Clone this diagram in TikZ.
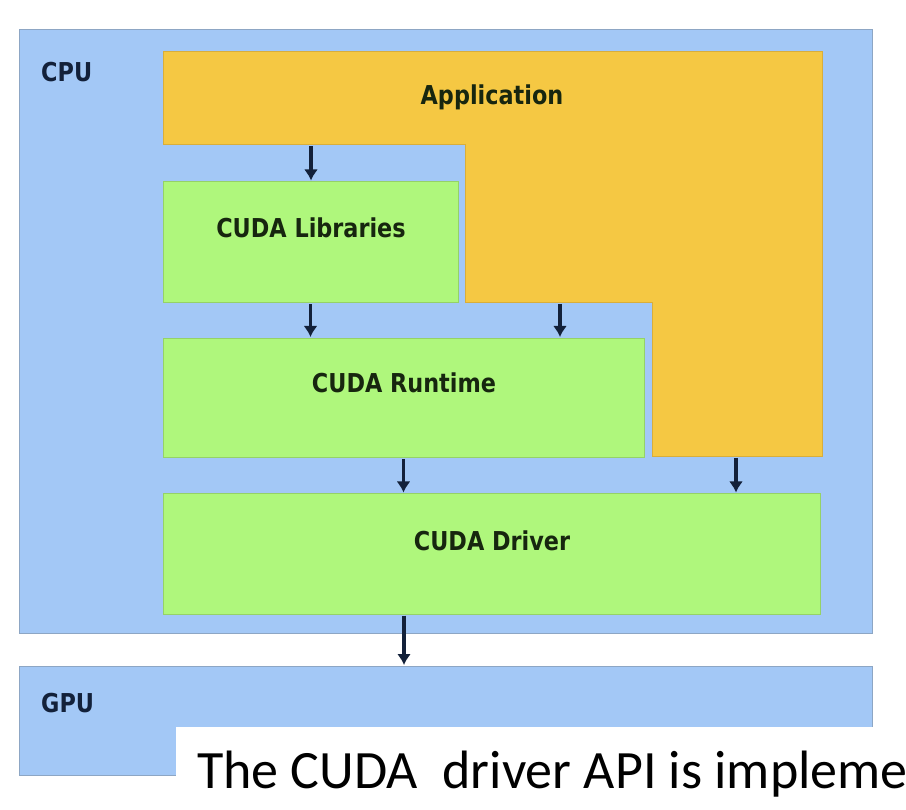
\documentclass[tikz,border=0pt]{standalone}
\usepackage{fontspec}
\newfontfamily\boxfont[FakeStretch=0.86]{DejaVu Sans Bold}
\newfontfamily\capfont{Carlito}
\usetikzlibrary{arrows.meta}
\definecolor{cpublue}{HTML}{A3C8F6}
\definecolor{bluebd}{HTML}{8DA6C4}
\definecolor{appor}{HTML}{F5C843}
\definecolor{appbd}{HTML}{D9AE3A}
\definecolor{cudagr}{HTML}{AFF77C}
\definecolor{grbd}{HTML}{95D267}
\definecolor{navy}{HTML}{13213A}
\definecolor{dkgr}{HTML}{17260F}
\tikzset{
  panel/.style={fill=cpublue, draw=bluebd, line width=1pt},
  gbox/.style={fill=cudagr, draw=grbd, line width=1pt, rectangle, inner sep=0pt},
  lbl/.style={font=\boxfont\fontsize{26}{30}\selectfont, text=dkgr, inner sep=0pt},
  hwlbl/.style={font=\boxfont\fontsize{26}{30}\selectfont, text=navy, inner sep=0pt},
  arr/.style={line width=3.6pt, draw=navy, -{Latex[length=11pt,width=14pt]}, shorten >=1pt, shorten <=1pt}
}
\begin{document}
\begin{tikzpicture}[x=1pt,y=-1pt]
\useasboundingbox (0,0) rectangle (906,810);
\fill[white] (0,0) rectangle (906,810);
% CPU and GPU panels
\draw[panel] (19,30) rectangle (872,633);
\draw[panel] (19,666) rectangle (872,775);
\node[hwlbl, anchor=west] (cpu) at (41,72) {CPU};
\node[hwlbl, anchor=west] (gpu) at (41,703) {GPU};
% Application L-shape
\draw[fill=appor, draw=appbd, line width=1pt] (163,52) -- (822,52) -- (822,457) -- (652,457) -- (652,303) -- (465,303) -- (465,145) -- (163,145) -- cycle;
\node[lbl] (app) at (492,97) {Application};
\coordinate (appA) at (311,145);
\coordinate (appB) at (560,303);
\coordinate (appC) at (736,457);
% CUDA boxes
\node[gbox, minimum width=295pt, minimum height=121pt] (lib) at (310.5,242.5) {};
\node[lbl] (libt) at (311,228) {CUDA Libraries};
\node[gbox, minimum width=481pt, minimum height=119pt] (run) at (403.5,398) {};
\node[lbl] (runt) at (404,383) {CUDA Runtime};
\node[gbox, minimum width=657pt, minimum height=120pt] (drv) at (491.5,554) {};
\node[lbl] (drvt) at (492,541) {CUDA Driver};
\coordinate (gpuTop) at (404,666);
% arrows
\draw[arr] (appA) -- (appA |- lib.north);
\draw[arr] (lib.south) -- (lib.south |- run.north);
\draw[arr] (appB) -- (appB |- run.north);
\draw[arr] (run.south) -- (run.south |- drv.north);
\draw[arr] (appC) -- (appC |- drv.north);
\draw[arr] (gpuTop |- drv.south) -- (gpuTop);
% caption overlay
\fill[white] (176,727) rectangle (906,810);
\node[font=\capfont\fontsize{54}{60}\selectfont, anchor=base west, inner sep=0pt, text=black] (cap) at (197,788) {The CUDA\ \ driver API is impleme};
\end{tikzpicture}
\end{document}
